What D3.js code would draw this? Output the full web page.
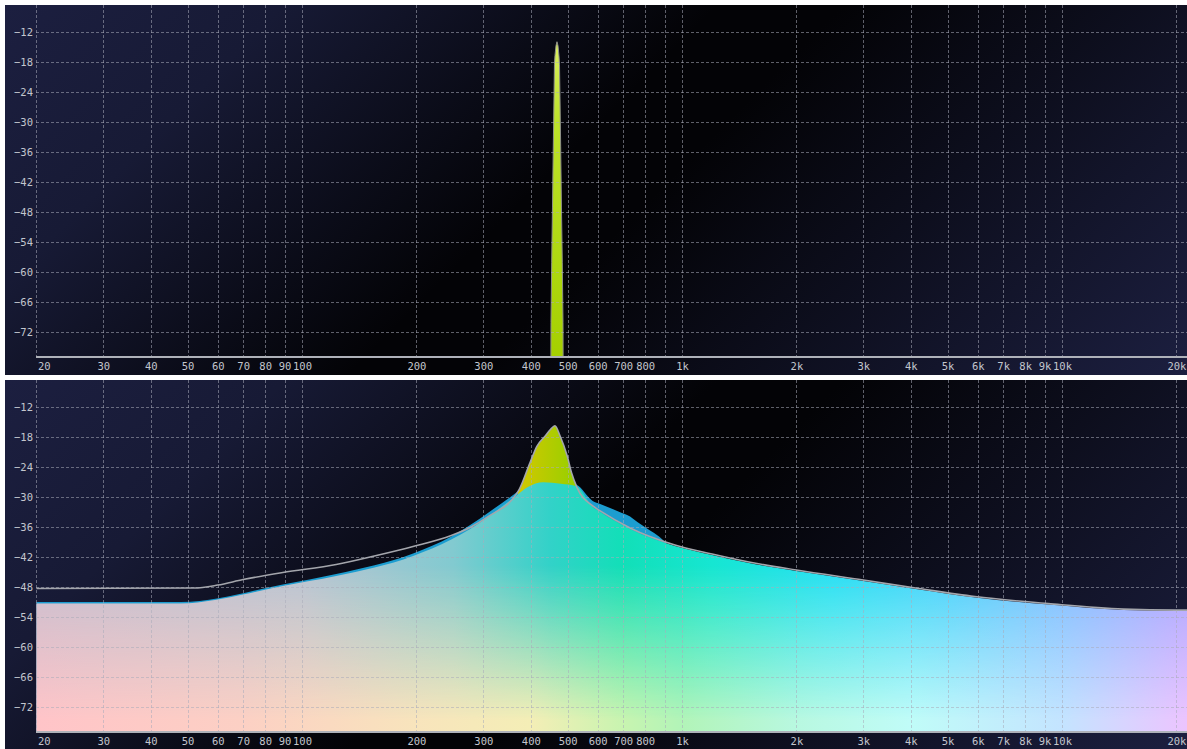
<!DOCTYPE html>
<html>
<head>
<meta charset="utf-8">
<script src="https://cdn.jsdelivr.net/npm/d3@7"></script>
<style>
body { margin: 0; background: #fff; }
svg { display: block; }
</style>
</head>
<body>
<script>
var w = 1187;
var h = 749;

// axis ticks
var freqTicks = [20, 30, 40, 50, 60, 70, 80, 90, 100, 200, 300, 400, 500, 600, 700, 800, 900,
    1000, 2000, 3000, 4000, 5000, 6000, 7000, 8000, 9000, 10000, 20000];
var freqLabels = ["20", "30", "40", "50", "60", "70", "80", "90", "100", "200", "300", "400", "500",
    "600", "700", "800", "", "1k", "2k", "3k", "4k", "5k", "6k", "7k", "8k", "9k", "10k", "20k"];
var dbTicks = [-12, -18, -24, -30, -36, -42, -48, -54, -60, -66, -72];

// top panel: single sine tone
var spikeFreq = [451.0, 452.1, 454.0, 456.2, 458.4, 460.4, 461.7, 463.1, 466.0, 468.8,
    471.7, 474.5, 476.0, 477.4, 479.4, 481.7, 484.1, 486.2, 487.5];
var spikeDb = [-95, -70, -58, -47, -35, -25, -18.5, -16.8, -14.8, -14,
    -14.8, -16.8, -18.5, -25, -35, -47, -58, -70, -95];

// bottom panel: peak hold line
var holdFreq = [20, 52, 60, 70, 89, 123, 155, 196, 247, 277, 311, 366, 373, 398, 415, 436, 451, 463,
    478, 499, 512, 529, 582, 609, 730, 958, 1200, 1500, 2000, 3000, 4200, 5900, 9200, 14500, 20000, 22000];
var holdDb = [-48.3, -48.2, -47.6, -46.5, -45.1, -43.5, -41.8, -39.9, -37.7, -36.1, -33.8, -29.5, -28.5, -23.2, -19.9, -17.9, -16.5, -15.8,
    -17.9, -21.9, -25.2, -28.1, -31.8, -32.8, -36.2, -39.6, -41.4, -43.0, -44.6, -46.6, -48.3, -49.9, -51.3, -52.4, -52.6, -52.6];

// bottom panel: averaged spectrum (rainbow fill)
var avgFreq = [20, 48, 59, 70, 89, 123, 196, 247, 277, 311, 366, 392, 432, 480, 528, 582, 609, 730,
    958, 1200, 1500, 2000, 3000, 4200, 5900, 9200, 14500, 20000, 22000];
var avgDb = [-51.3, -51.3, -50.6, -49.5, -47.8, -45.8, -41.8, -38.5, -36.4, -33.8, -29.8, -28.1, -27.1, -27.4, -27.9, -32.0, -33.0, -36.4,
    -39.8, -41.6, -43.2, -44.8, -46.8, -48.5, -50.1, -51.5, -52.6, -52.8, -52.8];

// bottom panel: blue band
var blueFreq = [20, 48, 89, 123, 196, 247, 277, 311, 366, 392, 432, 480, 528, 582, 609, 680, 730, 763, 820, 870, 910];
var blueDb = [-51.0, -51.0, -47.5, -45.4, -41.3, -37.9, -35.6, -33.0, -29.2, -27.6, -26.6, -26.9, -27.6, -30.8, -31.4, -32.9, -33.9, -35.0, -36.6, -37.9, -39.3];

var plotLeft = 36;
var plotRight = w;
var font = "DejaVu Sans Mono";

var x = d3.scaleLog().domain([20, 20000]).range([36.4, 1176.4]);

var svg = d3.select("body").append("svg")
    .attr("width", w)
    .attr("height", h);
var defs = svg.append("defs");

function pts(fs, ds) {
    return fs.map(function(f, i) { return { f: f, db: ds[i] }; });
}

function makePanel(top, ph, id) {
    var y = d3.scaleLinear().domain([-12, -72]).range([top + 26.7, top + 327.3]);
    var floorY = top + 352;

    var bg = defs.append("linearGradient")
        .attr("id", "bg-" + id)
        .attr("gradientUnits", "userSpaceOnUse")
        .attr("x1", 208).attr("y1", top - 203)
        .attr("x2", 984).attr("y2", top + 573);
    bg.append("stop").attr("offset", 0).attr("stop-color", "#1c1f40");
    bg.append("stop").attr("offset", 0.18).attr("stop-color", "#171a35");
    bg.append("stop").attr("offset", 0.46).attr("stop-color", "#030306");
    bg.append("stop").attr("offset", 0.54).attr("stop-color", "#030306");
    bg.append("stop").attr("offset", 1).attr("stop-color", "#1c1f40");

    svg.append("rect")
        .attr("x", 5).attr("y", top)
        .attr("width", w - 5).attr("height", ph)
        .attr("fill", "url(#bg-" + id + ")");

    defs.append("clipPath").attr("id", "clip-" + id)
        .append("rect")
        .attr("x", plotLeft).attr("y", top)
        .attr("width", plotRight - plotLeft).attr("height", floorY - top);

    var plot = svg.append("g").attr("clip-path", "url(#clip-" + id + ")");

    var area = d3.area()
        .x(function(d) { return x(d.f); })
        .y0(floorY)
        .y1(function(d) { return y(d.db); })
        .curve(d3.curveMonotoneX);
    var line = d3.line()
        .x(function(d) { return x(d.f); })
        .y(function(d) { return y(d.db); })
        .curve(d3.curveMonotoneX);

    return { top: top, y: y, floorY: floorY, plot: plot, area: area, line: line, id: id };
}

function finishPanel(p) {
    var grid = svg.append("g")
        .attr("stroke", "rgba(170,172,186,0.55)")
        .attr("stroke-width", 1)
        .attr("stroke-dasharray", "3,2");
    grid.selectAll("line.h")
        .data(dbTicks)
        .enter()
        .append("line")
        .attr("x1", plotLeft)
        .attr("x2", plotRight)
        .attr("y1", function(d) { return Math.round(p.y(d)) + 0.5; })
        .attr("y2", function(d) { return Math.round(p.y(d)) + 0.5; });
    grid.selectAll("line.v")
        .data(freqTicks)
        .enter()
        .append("line")
        .attr("x1", function(d) { return Math.round(x(d)) + 0.5; })
        .attr("x2", function(d) { return Math.round(x(d)) + 0.5; })
        .attr("y1", p.top)
        .attr("y2", p.floorY);

    svg.append("line")
        .attr("x1", plotLeft).attr("x2", plotRight)
        .attr("y1", p.floorY).attr("y2", p.floorY)
        .attr("stroke", "#aeb1b9")
        .attr("stroke-width", 2);

    var xAxis = svg.append("g")
        .attr("transform", "translate(0," + p.floorY + ")")
        .call(d3.axisBottom(x)
            .tickValues(freqTicks)
            .tickFormat(function(d, i) { return freqLabels[i]; })
            .tickSize(0)
            .tickPadding(6));
    xAxis.select(".domain").remove();
    xAxis.selectAll("text")
        .attr("fill", "#c3c6ce")
        .attr("font-family", font)
        .attr("font-size", "10.5px");
    xAxis.selectAll("text")
        .filter(function(d) { return d === 20; })
        .attr("text-anchor", "start")
        .attr("x", 1);

    var yAxis = svg.append("g")
        .attr("transform", "translate(" + plotLeft + ",0)")
        .call(d3.axisLeft(p.y)
            .tickValues(dbTicks)
            .tickSize(0)
            .tickPadding(3));
    yAxis.select(".domain").remove();
    yAxis.selectAll("text")
        .attr("fill", "#c3c6ce")
        .attr("font-family", font)
        .attr("font-size", "10.5px");
}

function freqStops(grad, stops) {
    stops.forEach(function(s) {
        grad.append("stop")
            .attr("offset", (x(s[0]) - plotLeft) / (plotRight - plotLeft))
            .attr("stop-color", s[1]);
    });
}

// ---------- top panel ----------
var pTop = makePanel(5, 370, "top");

var spikeGrad = defs.append("linearGradient")
    .attr("id", "spike")
    .attr("gradientUnits", "userSpaceOnUse")
    .attr("x1", 0).attr("y1", pTop.y(-14))
    .attr("x2", 0).attr("y2", pTop.floorY);
spikeGrad.append("stop").attr("offset", 0).attr("stop-color", "#dcf062");
spikeGrad.append("stop").attr("offset", 0.25).attr("stop-color", "#bde22a");
spikeGrad.append("stop").attr("offset", 1).attr("stop-color", "#a5d000");

pTop.plot.append("path")
    .datum(pts(spikeFreq, spikeDb))
    .attr("d", d3.area()
        .x(function(d) { return x(d.f); })
        .y0(pTop.floorY)
        .y1(function(d) { return pTop.y(d.db); }))
    .attr("fill", "url(#spike)")
    .attr("stroke", "#8e9088")
    .attr("stroke-width", 1);

finishPanel(pTop);

// ---------- bottom panel ----------
var pBot = makePanel(380, 369, "bot");

var topCol = defs.append("linearGradient").attr("id", "topCol")
    .attr("gradientUnits", "userSpaceOnUse")
    .attr("x1", plotLeft).attr("y1", 0).attr("x2", plotRight).attr("y2", 0);
freqStops(topCol, [[20, "#c6bfd0"], [100, "#b6c4d4"], [250, "#82cad0"], [450, "#32d2c8"],
    [700, "#12dfb8"], [1200, "#16e6d2"], [2500, "#24dff4"], [5000, "#48d0fb"], [10000, "#7cbcff"], [22000, "#aaa6ff"]]);

var botCol = defs.append("linearGradient").attr("id", "botCol")
    .attr("gradientUnits", "userSpaceOnUse")
    .attr("x1", plotLeft).attr("y1", 0).attr("x2", plotRight).attr("y2", 0);
freqStops(botCol, [[20, "#ffc4c8"], [70, "#fcd0c4"], [200, "#f8e4bc"], [400, "#f4eeb6"],
    [700, "#c8f4b0"], [1000, "#b2f4b8"], [2000, "#b8f8e0"], [4000, "#c0fcf8"], [10000, "#c4e4ff"], [22000, "#ecc4ff"]]);

var fadeGrad = defs.append("linearGradient").attr("id", "fade")
    .attr("gradientUnits", "userSpaceOnUse")
    .attr("x1", 0).attr("y1", pBot.top + 185).attr("x2", 0).attr("y2", pBot.top + 340);
fadeGrad.append("stop").attr("offset", 0).attr("stop-color", "#000");
fadeGrad.append("stop").attr("offset", 1).attr("stop-color", "#fff");
defs.append("mask").attr("id", "fadeMask")
    .attr("maskUnits", "userSpaceOnUse")
    .attr("x", 0).attr("y", 0).attr("width", w).attr("height", h)
    .append("rect")
    .attr("x", 0).attr("y", 0).attr("width", w).attr("height", h)
    .attr("fill", "url(#fade)");

var yellow = defs.append("linearGradient").attr("id", "yellow")
    .attr("gradientUnits", "userSpaceOnUse")
    .attr("x1", x(380)).attr("y1", 0).attr("x2", x(540)).attr("y2", 0);
yellow.append("stop").attr("offset", 0).attr("stop-color", "#cfc800");
yellow.append("stop").attr("offset", 1).attr("stop-color", "#92d000");

defs.append("clipPath").attr("id", "peakClip")
    .append("rect")
    .attr("x", x(370)).attr("y", pBot.top)
    .attr("width", x(545) - x(370)).attr("height", 352);

pBot.plot.append("path")
    .datum(pts(blueFreq, blueDb))
    .attr("d", pBot.area)
    .attr("fill", "#1c9dd0");

pBot.plot.append("g").attr("clip-path", "url(#peakClip)")
    .append("path")
    .datum(pts(holdFreq, holdDb))
    .attr("d", pBot.area)
    .attr("fill", "url(#yellow)");

pBot.plot.append("path")
    .datum(pts(avgFreq, avgDb))
    .attr("d", pBot.area)
    .attr("fill", "url(#topCol)");

pBot.plot.append("path")
    .datum(pts(avgFreq, avgDb))
    .attr("d", pBot.area)
    .attr("fill", "url(#botCol)")
    .attr("mask", "url(#fadeMask)");

pBot.plot.append("path")
    .datum(pts(holdFreq, holdDb))
    .attr("d", pBot.line)
    .attr("fill", "none")
    .attr("stroke", "#a4a6ac")
    .attr("stroke-width", 1.6);

finishPanel(pBot);
</script>
</body>
</html>
